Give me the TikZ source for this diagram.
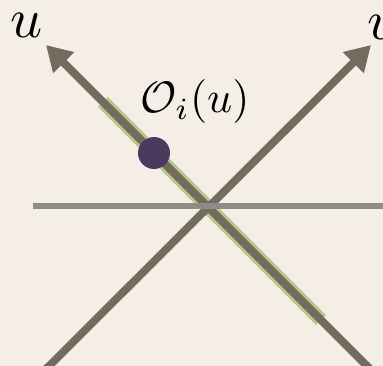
\documentclass[tikz,border=0pt]{standalone}
\usepackage{amsmath}
\usepackage{graphicx}
\usepackage{tikz}
\usetikzlibrary{arrows.meta,calc,positioning}
\definecolor{paper}{HTML}{F5EEE7}
\definecolor{axiscol}{HTML}{716C5D}
\definecolor{horcol}{HTML}{8F8B86}
\definecolor{orbcol}{HTML}{B4C88A}
\definecolor{ptcol}{HTML}{4B3A5E}
\newcommand{\bigtxt}[2]{\scalebox{#1}{#2}}
\begin{document}
\begin{tikzpicture}[x=1pt,y=-1pt,>={Triangle[length=25pt,width=28pt]},
axis/.style={->,draw=axiscol,line width=7.8pt},
hor/.style={draw=horcol,line width=6.5pt},
orbit/.style={draw=orbcol,line width=14pt},
lab/.style={inner sep=0pt}]
\fill[paper] (0,0) rectangle (383,366);
\useasboundingbox (0,0) rectangle (383,366);
\coordinate (o) at (208.5,207.5);
\coordinate (ubot) at (371,370);
\coordinate (utop) at (46,45);
\coordinate (vbot) at (45,370);
\coordinate (vtop) at (371,45);
\coordinate (hl) at (33,206);
\coordinate (hr) at (384,206);
\coordinate (o1) at (103,102);
\coordinate (o2) at (321,320);
% orbit segment on the u axis
\draw[orbit] (o1)--(o2);
\draw[axis] (ubot)--(utop);
\draw[axis] (vbot)--(vtop);
\draw[hor] (hl)--(hr);
\fill[ptcol] (154,153) circle (16);
\node[lab] (u) at (27,25) {\bigtxt{5.6}{$u$}};
\node[lab] (v) at (382,27) {\bigtxt{5.6}{$v$}};
\node[lab] (orb) at (195,102) {\bigtxt{4.4}{$\mathcal{O}_i(u)$}};
\end{tikzpicture}
\end{document}
